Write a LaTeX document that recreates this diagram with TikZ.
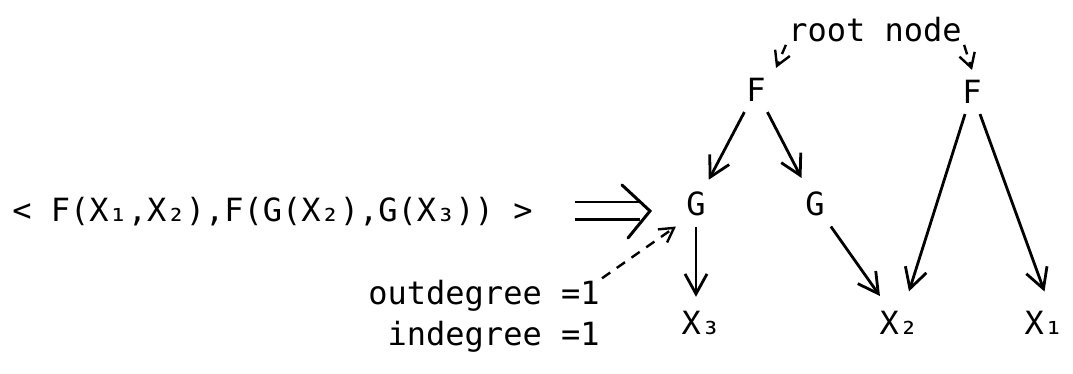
\documentclass[tikz,border=0pt]{standalone}
\usepackage{fontspec}
\setmainfont{DejaVu Sans Mono}
\usetikzlibrary{arrows.meta}

\begin{document}
\begin{tikzpicture}[x=0.5pt, y=-0.5pt,
        every node/.style={font=\fontsize{16}{20}\selectfont},
        term/.style={inner sep=5pt},
        arc/.style={line width=1.4pt, -{Straight Barb[length=10pt, width=11pt, line width=1.4pt]}},
        pointer/.style={line width=1.2pt, dash pattern=on 5pt off 4pt, -{Straight Barb[length=7pt, width=8pt, line width=1.2pt]}}]
        \useasboundingbox (0,0) rectangle (1073,374);

        % Term tuple
        \node[anchor=base west, inner sep=0pt] (tuple) at (12,222) {< F(X₁,X₂),F(G(X₂),G(X₃)) >};

        % Root label
        \node[anchor=base, inner sep=1pt] (root) at (875,42) {root node};

        % Left tree
        \node[term] (F1) at (756,90) {F};
        \node[term] (G1) at (696,204) {G};
        \node[term] (G2) at (815,204) {G};
        \node[term] (X3) at (701,323) {X₃};

        % Right tree
        \node[term] (F2) at (972,92) {F};
        \node[term] (X2) at (899,323) {X₂};
        \node[term] (X1) at (1044,323) {X₁};

        % Degree labels
        \node[anchor=base east, inner sep=1pt] (outdeg) at (602,305) {outdegree =1};
        \node[anchor=base east, inner sep=1pt] (indeg) at (602,345) {indegree =1};

        % Translation arrow
        \coordinate (dtip) at (650,211);
        \draw[line width=1.4pt, double distance=7.5pt] ([xshift=21pt]tuple.east |- dtip) -- ([xshift=-5pt]dtip);
        \draw[line width=1.5pt, line cap=round, line join=miter] (dtip) ++(-28,-26) -- (dtip) -- ++(-22,27);

        % Edges
        \draw[arc, shorten >=1pt] (F1) -- (G1);
        \draw[arc, shorten >=2pt] (F1) -- (G2);
        \draw[arc, shorten >=2pt] (G1) -- (G1 |- X3.north);
        \draw[arc, shorten >=3pt] (G2) -- (X2);
        \draw[arc, shorten >=5pt] (F2) -- (X2);
        \draw[arc, shorten >=5pt] (F2) -- (X1.80);

        % Pointers
        \draw[pointer] (root.south west) -- (F1.north east);
        \draw[pointer] (root.south east) -- (F2.north);
        \draw[pointer] (outdeg.north east) -- (G1.south west);
    \end{tikzpicture}
\end{document}
